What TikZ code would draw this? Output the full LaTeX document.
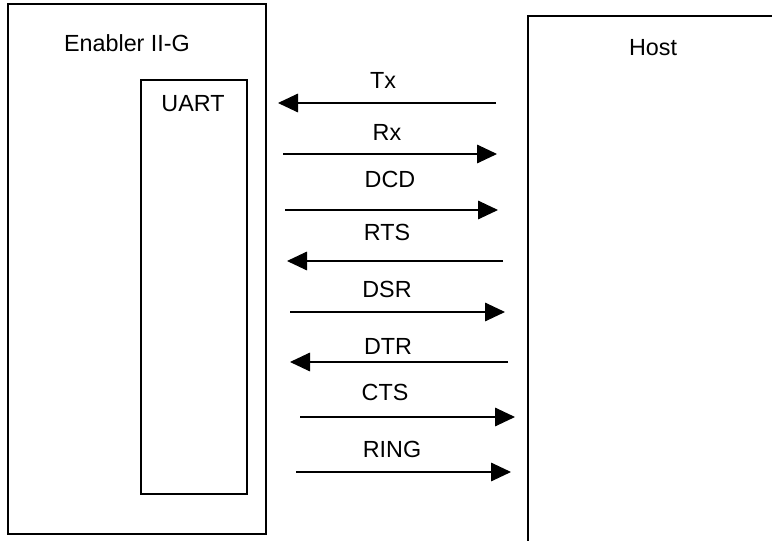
\documentclass[tikz,border=0pt]{standalone}
\usepackage{fontspec}
\setmainfont{Liberation Sans}
\usetikzlibrary{arrows.meta, positioning}

\begin{document}
\begin{tikzpicture}[x=0.75pt, y=-0.75pt,
        block/.style={draw, line width=1pt, rectangle, inner sep=0pt},
        sig/.style={line width=0.8pt, -{Triangle[length=15pt, width=14pt]}},
        lbl/.style={anchor=base, inner sep=0pt, font=\fontsize{17.5}{21}\selectfont}]
    \clip (0, 0) rectangle (772, 541);
    % boxes
    \node[block, minimum width=193.5pt, minimum height=397.5pt] (dev) at (137, 269) {};
    \node[block, minimum width=79.5pt, minimum height=310.5pt] (uart) at (194, 287) {};
    \node[block, minimum width=204pt, minimum height=438pt] (host) at (664, 308) {};
    \node[lbl] (devl) at (127, 52) {Enabler II-G};
    \node[lbl] (uartl) at (193, 112) {UART};
    \node[lbl] (hostl) at (653, 56) {Host};
    % signal labels
    \node[lbl] (tx) at (383, 89) {Tx};
    \node[lbl] (rx) at (387, 141) {Rx};
    \node[lbl] (dcd) at (390, 188) {DCD};
    \node[lbl] (rts) at (387, 241) {RTS};
    \node[lbl] (dsr) at (387, 298) {DSR};
    \node[lbl] (dtr) at (388, 355) {DTR};
    \node[lbl] (cts) at (385, 401) {CTS};
    \node[lbl] (ring) at (392, 458) {RING};
    % arrow ends
    \coordinate (tx1) at (496, 103);  \coordinate (tx2) at (278, 103);
    \coordinate (rx1) at (283, 154);  \coordinate (rx2) at (497, 154);
    \coordinate (dcd1) at (285, 210); \coordinate (dcd2) at (498, 210);
    \coordinate (rts1) at (503, 261); \coordinate (rts2) at (287, 261);
    \coordinate (dsr1) at (290, 312); \coordinate (dsr2) at (505, 312);
    \coordinate (dtr1) at (508, 362); \coordinate (dtr2) at (290, 362);
    \coordinate (cts1) at (300, 417); \coordinate (cts2) at (515, 417);
    \coordinate (ring1) at (296, 472); \coordinate (ring2) at (511, 472);
    \draw[sig] (tx1) -- (tx2);
    \draw[sig] (rx1) -- (rx2);
    \draw[sig] (dcd1) -- (dcd2);
    \draw[sig] (rts1) -- (rts2);
    \draw[sig] (dsr1) -- (dsr2);
    \draw[sig] (dtr1) -- (dtr2);
    \draw[sig] (cts1) -- (cts2);
    \draw[sig] (ring1) -- (ring2);
\end{tikzpicture}
\end{document}
